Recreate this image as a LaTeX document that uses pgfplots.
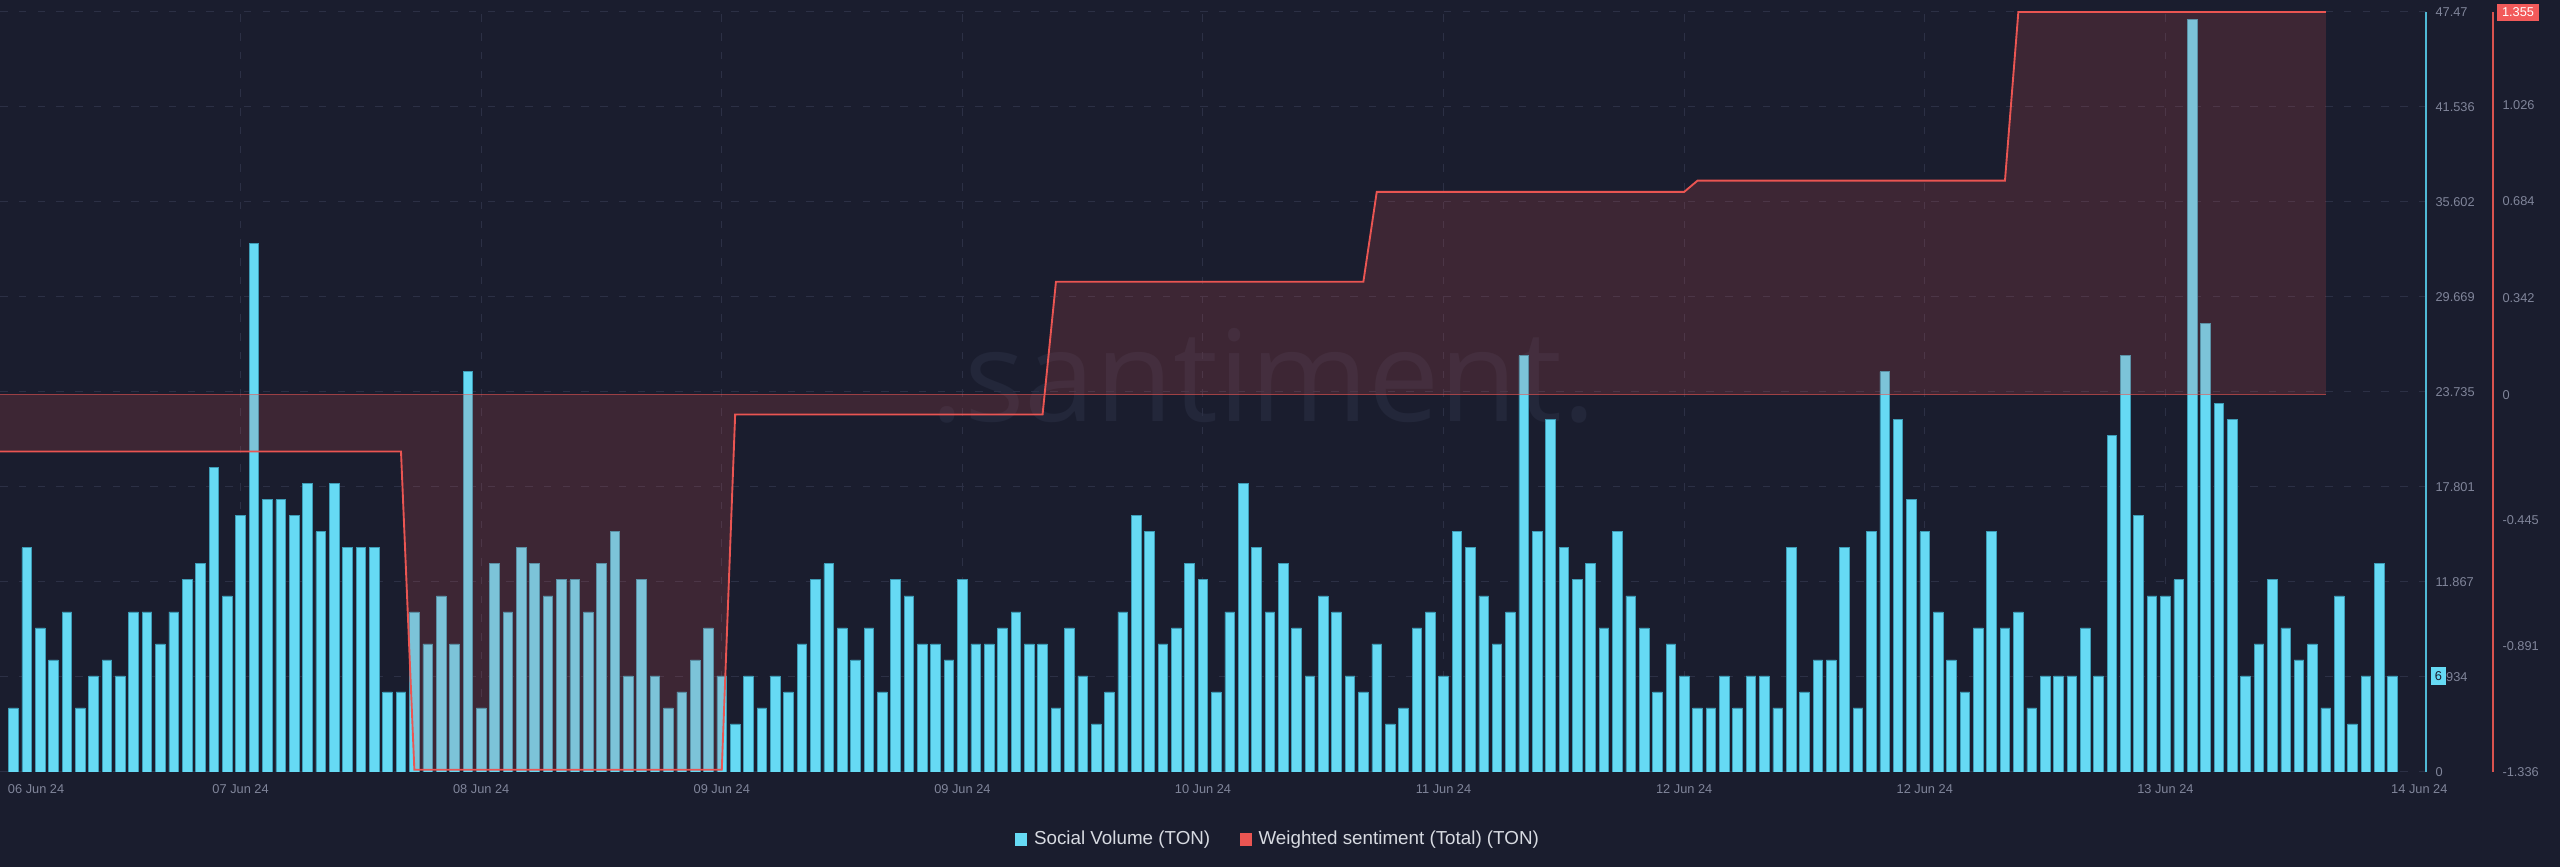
\documentclass[border=0pt]{standalone}
\usepackage{fontspec}
\setmainfont{Liberation Sans}
\newfontfamily\wmfont{Open Sans}
\usepackage{pgfplots}
\usepackage{pgfplotstable}
\pgfplotsset{compat=1.18}

\definecolor{bg}{HTML}{1A1D2E}
\definecolor{gridc}{HTML}{2C3045}
\definecolor{barc}{HTML}{66DAF4}
\definecolor{baredge}{HTML}{3D9CB6}
\definecolor{sentc}{HTML}{EA5552}
\definecolor{axblue}{HTML}{4FB9D6}
\definecolor{axred}{HTML}{D9534F}
\definecolor{tickc}{HTML}{80859A}
\definecolor{legc}{HTML}{D7DAE1}
\definecolor{wmc}{HTML}{23273A}
\definecolor{boxred}{HTML}{F25A5A}

% hourly social volume, 06 Jun 24 -> 14 Jun 24
\pgfplotstableread{
x y
1 4
2 14
3 9
4 7
5 10
6 4
7 6
8 7
9 6
10 10
11 10
12 8
13 10
14 12
15 13
16 19
17 11
18 16
19 33
20 17
21 17
22 16
23 18
24 15
25 18
26 14
27 14
28 14
29 5
30 5
31 10
32 8
33 11
34 8
35 25
36 4
37 13
38 10
39 14
40 13
41 11
42 12
43 12
44 10
45 13
46 15
47 6
48 12
49 6
50 4
51 5
52 7
53 9
54 6
55 3
56 6
57 4
58 6
59 5
60 8
61 12
62 13
63 9
64 7
65 9
66 5
67 12
68 11
69 8
70 8
71 7
72 12
73 8
74 8
75 9
76 10
77 8
78 8
79 4
80 9
81 6
82 3
83 5
84 10
85 16
86 15
87 8
88 9
89 13
90 12
91 5
92 10
93 18
94 14
95 10
96 13
97 9
98 6
99 11
100 10
101 6
102 5
103 8
104 3
105 4
106 9
107 10
108 6
109 15
110 14
111 11
112 8
113 10
114 26
115 15
116 22
117 14
118 12
119 13
120 9
121 15
122 11
123 9
124 5
125 8
126 6
127 4
128 4
129 6
130 4
131 6
132 6
133 4
134 14
135 5
136 7
137 7
138 14
139 4
140 15
141 25
142 22
143 17
144 15
145 10
146 7
147 5
148 9
149 15
150 9
151 10
152 4
153 6
154 6
155 6
156 9
157 6
158 21
159 26
160 16
161 11
162 11
163 12
164 47
165 28
166 23
167 22
168 6
169 8
170 12
171 9
172 7
173 8
174 4
175 11
176 3
177 6
178 13
179 6
}\volume

% weighted sentiment (step line)
\pgfplotstableread{
x s
0 -0.201
30 -0.201
31 -1.328
54 -1.328
55 -0.070
78 -0.070
79 0.400
102 0.400
103 0.718
126 0.718
127 0.758
150 0.758
151 1.355
174 1.355
}\sentiment

% same line closed down to zero, for the shaded area
\pgfplotstableread{
x s
0 0
0 -0.201
30 -0.201
31 -1.328
54 -1.328
55 -0.070
78 -0.070
79 0.400
102 0.400
103 0.718
126 0.718
127 0.758
150 0.758
151 1.355
174 1.355
174 0
}\sentarea

\begin{document}
\begin{tikzpicture}[x=1pt,y=1pt]
\path[use as bounding box, fill=bg] (0,0) rectangle (1024,346.8);
\node[text=wmc, font=\wmfont\fontsize{50.8}{60}\selectfont, anchor=base, inner sep=0pt]
  at (505.4,178.1) {.santiment.};

\begin{axis}[
    at={(0pt,38pt)}, anchor=south west,
    scale only axis, width=970.4pt, height=304pt,
    xmin=0, xmax=181.5, ymin=0, ymax=47.47,
    axis x line*=bottom, x axis line style={draw=none},
    axis y line*=right, y axis line style={draw=axblue, line width=0.6pt},
    tick style={draw=none},
    xtick={2.7,18,36,54,72,90,108,126,144,162,181},
    xticklabels={06 Jun 24,07 Jun 24,08 Jun 24,09 Jun 24,09 Jun 24,10 Jun 24,11 Jun 24,12 Jun 24,12 Jun 24,13 Jun 24,14 Jun 24},
    extra x ticks={18,36,54,72,90,108,126,144,162},
    extra x tick labels={},
    extra x tick style={grid=major},
    ytick={0,5.934,11.867,17.801,23.735,29.669,35.602,41.536,47.47},
    yticklabels={0,5.934,11.867,17.801,23.735,29.669,35.602,41.536,47.47},
    ymajorgrids=true,
    grid style={gridc, dash pattern=on 3pt off 4.5pt, line width=0.4pt},
    tick label style={font=\fontsize{5.12}{6}\selectfont, text=tickc},
    xticklabel style={anchor=center, yshift=-6.8pt},
    yticklabel style={anchor=west, inner sep=0pt, xshift=3.6pt},
]
\addplot[ybar, bar width=0.72, fill=barc, draw=baredge, line width=0.3pt]
  table[x=x, y=y] {\volume};
\end{axis}

\begin{axis}[
    at={(0pt,38pt)}, anchor=south west,
    scale only axis, width=997.2pt, height=304pt,
    xmin=0, xmax=186.513, ymin=-1.336, ymax=1.355,
    axis x line=none,
    axis y line*=right, y axis line style={draw=axred, line width=0.6pt},
    tick style={draw=none},
    ytick={-1.336,-0.891,-0.445,0,0.342,0.684,1.026},
    yticklabels={-1.336,-0.891,-0.445,0,0.342,0.684,1.026},
    tick label style={font=\fontsize{5.12}{6}\selectfont, text=tickc},
    yticklabel style={anchor=west, inner sep=0pt, xshift=3.6pt},
]
\addplot[draw=none, fill=sentc, fill opacity=0.17] table[x=x, y=s] {\sentarea};
\addplot[sentc, opacity=0.6, line width=0.6pt] coordinates {(0,0) (174,0)};
\addplot[sentc, line width=0.75pt] table[x=x, y=s] {\sentiment};
\end{axis}

% current value markers on the two axes
\node[fill=boxred, text=white, font=\fontsize{5.12}{6}\selectfont, inner sep=0pt,
  minimum width=16.8pt, minimum height=6.8pt] at (1007.2,341.8) {1.355};
\node[fill=barc, text=bg, font=\fontsize{5.12}{6}\selectfont, inner sep=0pt,
  minimum width=6.1pt, minimum height=7.2pt] at (975.4,76.4) {6};

% legend
\fill[barc] (405.8,8.4) rectangle (410.7,13.5);
\node[anchor=west, inner sep=0pt, text=legc, font=\fontsize{7.52}{9}\selectfont]
  at (413.4,11.0) {Social Volume (TON)};
\fill[sentc] (495.8,8.4) rectangle (500.7,13.5);
\node[anchor=west, inner sep=0pt, text=legc, font=\fontsize{7.52}{9}\selectfont]
  at (503.2,11.0) {Weighted sentiment (Total) (TON)};
\end{tikzpicture}
\end{document}
